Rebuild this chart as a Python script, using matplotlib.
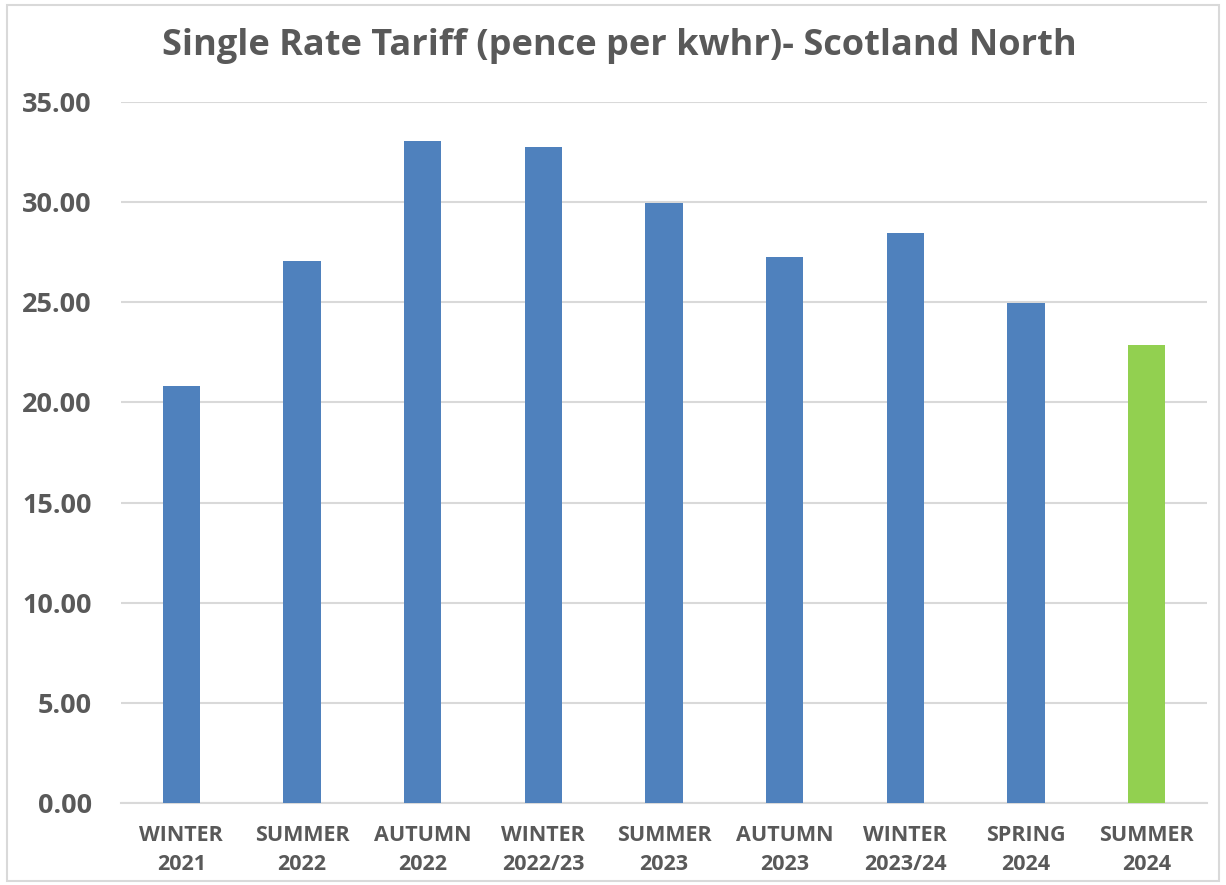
import matplotlib.pyplot as plt
from matplotlib.patches import Rectangle

# tariff per period (pence per kWh)
periods = ['WINTER\n2021', 'SUMMER\n2022', 'AUTUMN\n2022', 'WINTER\n2022/23',
           'SUMMER\n2023', 'AUTUMN\n2023', 'WINTER\n2023/24', 'SPRING\n2024',
           'SUMMER\n2024']
rates = [20.82, 27.05, 33.05, 32.75, 29.96, 27.26, 28.46, 24.96, 22.87]
colours = ['#4F81BD'] * 8 + ['#92D050']
yticks = [0, 5, 10, 15, 20, 25, 30, 35]

plt.rcParams['font.family'] = ['Open Sans', 'DejaVu Sans']
txt = '#595959'

fig = plt.figure(figsize=(12.26, 8.85), dpi=100)
ax = fig.add_axes([0.0987, 0.0927, 0.8858, 0.792])

ax.bar(range(len(periods)), rates, width=0.31, color=colours, zorder=3)

ax.set_xlim(-0.5, len(periods) - 0.5)
ax.set_ylim(0, 35)
ax.set_yticks(yticks)
ax.set_yticklabels([f'{v:.2f}' for v in yticks], fontsize=19.5,
                   fontweight='bold', color=txt)
ax.set_xticks(range(len(periods)))
ax.set_xticklabels(periods, fontsize=15.5, fontweight='bold', color=txt,
                   linespacing=1.5)
ax.tick_params(length=0)
ax.tick_params(axis='y', pad=21)
ax.tick_params(axis='x', pad=16)

ax.grid(axis='y', color='#D9D9D9', linewidth=1.5, zorder=0)
for s in ['top', 'right', 'left']:
    ax.spines[s].set_visible(False)
ax.spines['bottom'].set_color('#D9D9D9')
ax.spines['bottom'].set_linewidth(1.5)

fig.text(0.505, 0.948, 'Single Rate Tariff (pence per kwhr)- Scotland North',
         ha='center', va='center', fontsize=26, fontweight='bold', color=txt)

# light border round the chart
fig.patches.append(Rectangle((7 / 1226, 4 / 885), 1212 / 1226, 876 / 885,
                             transform=fig.transFigure, fill=False,
                             edgecolor='#D9D9D9', linewidth=1.5))

fig.savefig('out.png', dpi=100)
